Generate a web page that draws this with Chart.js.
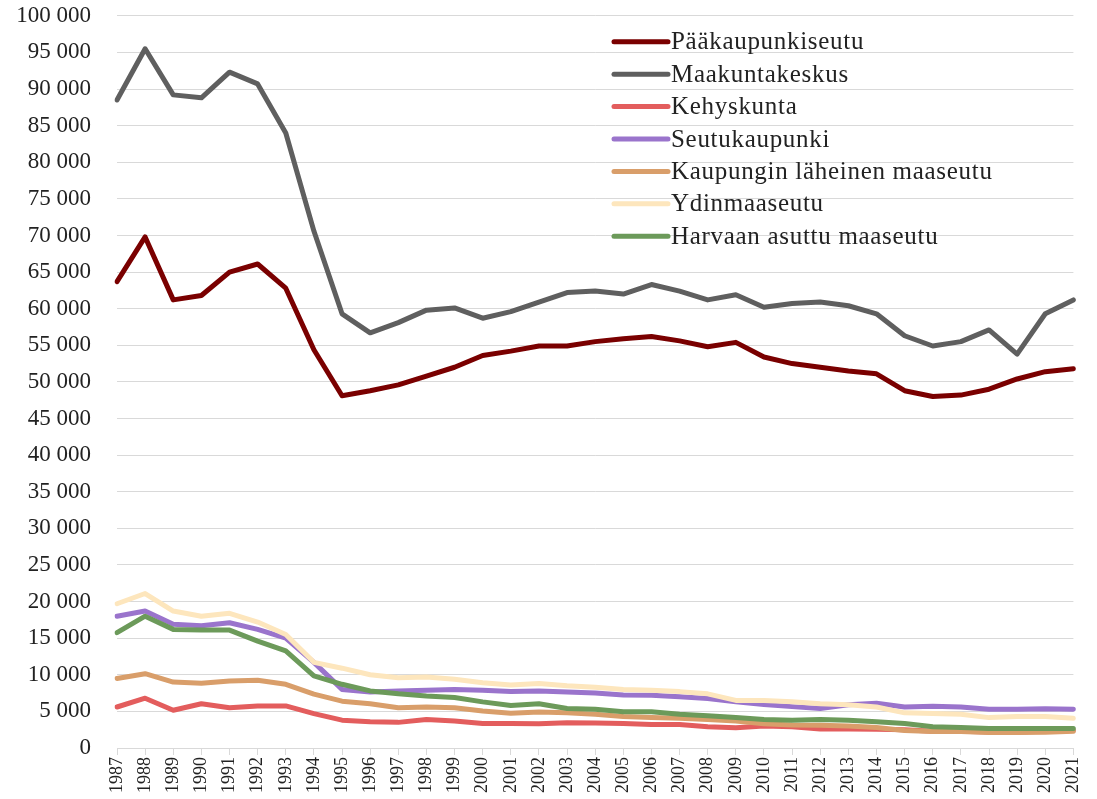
<!DOCTYPE html>
<html>
<head>
<meta charset="utf-8">
<script src="https://cdn.jsdelivr.net/npm/chart.js@4"></script>
<style>
  html, body { margin: 0; padding: 0; background: #fff; overflow: hidden; }
  #wrap { width: 1097px; height: 823px; position: relative; margin-top: -24px; }
</style>
</head>
<body>
<div id="wrap"><canvas id="chart"></canvas></div>
<script>
// years on the x axis
const years = [];
for (let y = 1987; y <= 2021; y++) years.push(String(y));

const seriesNames = [
  'Pääkaupunkiseutu', 'Maakuntakeskus', 'Kehyskunta', 'Seutukaupunki',
  'Kaupungin läheinen maaseutu', 'Ydinmaaseutu', 'Harvaan asuttu maaseutu'
];

const paakaupunkiseutu = [63700, 69800, 61200, 61800, 65000, 66100, 62800, 54400, 48100, 48800,
  49600, 50800, 52000, 53600, 54200, 54900, 54900, 55500, 55900, 56200,
  55600, 54800, 55400, 53400, 52500, 52000, 51500, 51100, 48800, 48000,
  48200, 49000, 50400, 51400, 51800];
const maakuntakeskus = [88500, 95500, 89200, 88800, 92300, 90700, 84000, 70600, 59300, 56700,
  58100, 59800, 60100, 58700, 59600, 60900, 62200, 62400, 62000, 63300,
  62400, 61200, 61900, 60200, 60700, 60900, 60400, 59300, 56300, 54900,
  55500, 57100, 53800, 59300, 61200];
const kehyskunta = [5600, 6800, 5150, 6050, 5500, 5750, 5750, 4700, 3800, 3600,
  3500, 3900, 3700, 3350, 3350, 3300, 3450, 3400, 3350, 3200,
  3200, 2900, 2750, 3000, 2900, 2600, 2600, 2550, 2500, 2300,
  2300, 2200, 2200, 2300, 2400];
const seutukaupunki = [18000, 18700, 16900, 16700, 17100, 16200, 15000, 11700, 8000, 7650,
  7800, 7900, 8000, 7900, 7700, 7800, 7650, 7500, 7250, 7200,
  7000, 6750, 6300, 5950, 5650, 5400, 5900, 6100, 5600, 5700,
  5600, 5300, 5300, 5350, 5300];
const kaupunginLaheinen = [9500, 10150, 9000, 8850, 9150, 9250, 8700, 7350, 6400, 6050,
  5500, 5600, 5500, 5050, 4750, 4900, 4800, 4600, 4300, 4150,
  4050, 3900, 3700, 3300, 3150, 3100, 3000, 2800, 2400, 2250,
  2250, 2100, 2100, 2150, 2300];
const ydinmaaseutu = [19700, 21100, 18700, 18000, 18400, 17200, 15500, 11700, 10900, 10000,
  9600, 9700, 9400, 8900, 8600, 8800, 8500, 8300, 8000, 7900,
  7700, 7400, 6500, 6500, 6300, 6050, 5900, 5600, 4800, 4700,
  4600, 4150, 4300, 4300, 4050];
const harvaanAsuttu = [15750, 18000, 16200, 16100, 16100, 14600, 13250, 9850, 8700, 7800,
  7400, 7100, 6900, 6300, 5800, 6050, 5400, 5300, 4950, 4950,
  4600, 4400, 4150, 3900, 3800, 3900, 3800, 3600, 3350, 2900,
  2800, 2650, 2650, 2650, 2650];

const seriesData = [paakaupunkiseutu, maakuntakeskus, kehyskunta, seutukaupunki,
  kaupunginLaheinen, ydinmaaseutu, harvaanAsuttu];
const colors = ['#7a0000', '#5f5f5f', '#e35d5d', '#9a74cc', '#d99e6a', '#fde6bd', '#6c9a5a'];

const fontFamily = '"Liberation Serif", "DejaVu Serif", serif';

const datasets = seriesNames.map((name, i) => ({
  label: name,
  data: seriesData[i],
  borderColor: colors[i],
  backgroundColor: colors[i],
  borderWidth: 5,
  pointRadius: 0,
  tension: 0,
  fill: false,
  borderJoinStyle: 'round',
  borderCapStyle: 'round',
  order: seriesNames.length - i   // later series on top, like the original
}));

// simple legend drawn inside the plot area, top right
const legendBox = {
  id: 'legendBox',
  afterDraw(chart) {
    const { ctx, chartArea } = chart;
    const x0 = chartArea.left + 497;
    const y0 = chartArea.top + 26;
    const rowH = 32.4;
    ctx.save();
    ctx.font = '25px ' + fontFamily;
    ctx.letterSpacing = '0.7px';
    ctx.textBaseline = 'middle';
    ctx.fillStyle = '#222';
    seriesNames.forEach((name, i) => {
      const y = y0 + i * rowH;
      ctx.strokeStyle = colors[i];
      ctx.lineWidth = 5;
      ctx.lineCap = 'round';
      ctx.beginPath();
      ctx.moveTo(x0, y);
      ctx.lineTo(x0 + 54, y);
      ctx.stroke();
      ctx.fillText(name, x0 + 57, y + 1);
    });
    ctx.restore();
  }
};

new Chart(document.getElementById('chart'), {
  type: 'line',
  data: { labels: years, datasets },
  options: {
    responsive: true,
    maintainAspectRatio: false,
    animation: false,
    layout: { padding: { top: 0, right: 20, left: 0, bottom: 0 } },
    plugins: {
      legend: { display: false },
      tooltip: { enabled: false }
    },
    scales: {
      x: {
        offset: false,
        grid: { drawOnChartArea: false, drawTicks: true, tickLength: 7, color: '#d9d9d9' },
        border: { color: '#d9d9d9', width: 1 },
        ticks: {
          autoSkip: false, maxRotation: 90, minRotation: 90,
          color: '#222', padding: 2,
          font: { family: fontFamily, size: 18 }
        },
        afterFit(scale) { scale.height = 51; }
      },
      y: {
        min: 0, max: 100000,
        grid: { color: '#d9d9d9', drawTicks: false },
        border: { display: false },
        ticks: {
          stepSize: 5000, padding: 26, color: '#222',
          font: { family: fontFamily, size: 23 },
          callback: v => String(v).replace(/\B(?=(\d{3})+(?!\d))/g, ' ')
        },
        afterFit(scale) { scale.width = 117; }
      }
    }
  },
  plugins: [legendBox]
});
</script>
</body>
</html>
